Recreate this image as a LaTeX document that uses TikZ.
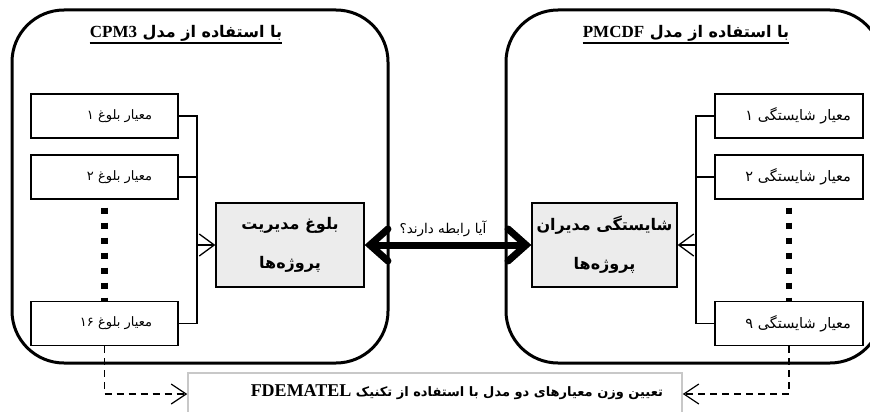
\documentclass[tikz,border=0pt]{standalone}
\usepackage{fontspec}
\usetikzlibrary{arrows.meta}
\TeXXeTstate=1
\newfontfamily\fa[Script=Arabic]{DejaVu Sans}
\newfontfamily\lat{Liberation Serif}
\definecolor{boxgray}{HTML}{ECECEC}
\definecolor{framegray}{HTML}{C8C8C8}
\newcommand\critL[1]{\hbox to 147pt{\hfill\beginR #1\endR\hskip 26pt}}
\newcommand\critR[1]{\hbox to 148pt{\hfill\beginR #1\endR\hskip 12pt}}
\newcommand\bottomline[1]{\hbox to 494pt{\hfill\beginR #1\endR\hskip 19pt}}
\begin{document}
\begin{tikzpicture}[x=1pt,y=-1pt,
  bigbox/.style={draw, line width=3pt, rounded corners=52pt, minimum width=376pt, minimum height=353pt, inner sep=0pt},
  crit/.style={draw, fill=white, line width=1.3pt, minimum height=44pt, inner sep=0pt},
  critfontL/.style={font=\fa\fontsize{13}{15}\selectfont},
  critfontR/.style={font=\fa\fontsize{14.5}{16}\selectfont},
  centerbox/.style={draw, fill=boxgray, line width=1.3pt, minimum height=84pt, inner sep=0pt, align=center, font=\fa\bfseries\fontsize{16}{39}\selectfont},
  title/.style={anchor=base, inner sep=0pt, font=\fa\bfseries\fontsize{16}{18}\selectfont},
  conn/.style={line width=1.3pt},
  openarrow/.style={-{Straight Barb[length=15pt,width=22pt]}},
  dashconn/.style={line width=1.2pt, dash pattern=on 7pt off 5pt, -{Straight Barb[length=15pt,width=20pt]}},
  dotline/.style={line width=6.5pt, dash pattern=on 6pt off 9pt, dash phase=7pt},
  bigarrow/.style={line width=7pt, {Straight Barb[length=18pt,width=32pt,line cap=round]}-{Straight Barb[length=18pt,width=32pt,line cap=round]}}
]
\clip (0,0) rectangle (870,412);
\fill[white] (0,0) rectangle (870,412);

% big frames
\node[bigbox] (L) at (200,186.5) {};
\node[bigbox] (R) at (694,186.5) {};

% titles
\node[title] (tl) at (186,38) {\beginR با استفاده از مدل \beginL{\lat\bfseries\fontsize{17}{19}\selectfont CPM3}\endL\endR};
\node[title] (tr) at (686,38) {\beginR با استفاده از مدل \beginL{\lat\bfseries\fontsize{17}{19}\selectfont PMCDF}\endL\endR};
\draw[line width=1.3pt] ([yshift=-5pt]tl.base west) -- ([yshift=-5pt]tl.base east);
\draw[line width=1.3pt] ([yshift=-5pt]tr.base west) -- ([yshift=-5pt]tr.base east);

% left criteria
\node[crit, critfontL] (a1) at (104.5,116) {\critL{معیار بلوغ ۱}};
\node[crit, critfontL] (a2) at (104.5,177) {\critL{معیار بلوغ ۲}};
\node[crit, critfontL] (a16) at (104.5,323.5) {\critL{معیار بلوغ ۱۶}};
\draw[dotline] (a2.south) -- (a16.north);

% right criteria
\node[crit, critfontR] (r1) at (789,116) {\critR{معیار شایستگی ۱}};
\node[crit, critfontR] (r2) at (789,177) {\critR{معیار شایستگی ۲}};
\node[crit, critfontR] (r9) at (789,323.5) {\critR{معیار شایستگی ۹}};
\draw[dotline] (r2.south) -- (r9.north);

% central boxes
\node[centerbox, minimum width=148pt] (cl) at (290,245) {\beginR بلوغ مدیریت\endR\\\beginR پروژه^^^^200cها\endR};
\node[centerbox, minimum width=145pt] (cr) at (604.5,245) {\beginR شایستگی مدیران\endR\\\beginR پروژه^^^^200cها\endR};

% connectors left
\coordinate (jl) at (197,245);
\draw[conn] (a1.east) -| (jl);
\draw[conn] (a2.east) -| (jl);
\draw[conn] (a16.east) -| (jl);
\draw[conn, openarrow] (jl) -- (cl.west);

% connectors right
\coordinate (jr) at (696,245);
\draw[conn] (r1.west) -| (jr);
\draw[conn] (r2.west) -| (jr);
\draw[conn] (r9.west) -| (jr);
\draw[conn, openarrow] (jr) -- (cr.east);

% relation arrow
\draw[bigarrow] (cl.east) -- (cr.west);
\node[inner sep=0pt, font=\fa\fontsize{13.5}{15}\selectfont] (q) at (443,229) {\beginR آیا رابطه دارند؟\endR};

% bottom box
\node[draw=framegray, line width=1.5pt, fill=white, anchor=base, inner sep=0pt, minimum width=494pt, text height=23pt, text depth=19pt,
      font=\fa\bfseries\fontsize{13}{15}\selectfont] (B) at (435,396)
  {\bottomline{تعیین وزن معیارهای دو مدل با استفاده از تکنیک \beginL{\lat\bfseries\fontsize{18}{20}\selectfont FDEMATEL}\endL}};
\draw[dashconn] (a16.south) |- (B.west);
\draw[dashconn] (r9.south) |- (B.east);
\end{tikzpicture}
\end{document}
